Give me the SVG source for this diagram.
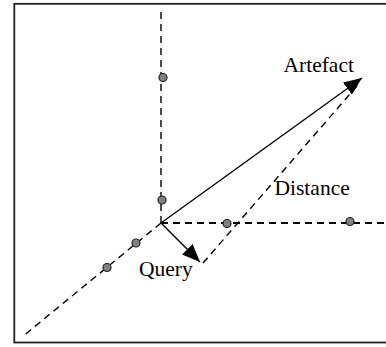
<svg xmlns="http://www.w3.org/2000/svg" width="386" height="347" viewBox="0 0 386 347">
<style>
.axis{stroke:#000;stroke-width:1.4;stroke-dasharray:7,5;fill:none}
.haxis{stroke-width:1.9}
.vec{stroke:#000;stroke-width:1.4;fill:none;marker-end:url(#ah)}
.dist{stroke:#000;stroke-width:1.4;stroke-dasharray:7,5;fill:none}
.pt{fill:#808080;stroke:#222;stroke-width:1.2}
.lbl{font-family:"Liberation Serif","Times New Roman",serif;font-size:21.5px;fill:#000}
</style>
<defs>
<marker id="ah" markerUnits="userSpaceOnUse" markerWidth="18" markerHeight="15" refX="18" refY="7.5" orient="auto">
<path d="M0,0 L18,7.5 L0,15 z" fill="#000"/>
</marker>
</defs>
<rect x="0" y="0" width="386" height="347" fill="#fff"/>
<rect x="14.3" y="3.8" width="400" height="338.7" fill="none" stroke="#222" stroke-width="1.8"/>
<g id="connectors">
<line class="axis" x1="161" y1="12" x2="161" y2="223"/>
<line class="axis haxis" x1="161" y1="223" x2="384" y2="223"/>
<line class="axis" x1="161" y1="223" x2="22" y2="337"/>
<line class="dist" x1="203" y1="263" x2="357" y2="86"/>
<line class="vec" x1="161" y1="223" x2="362" y2="78"/>
<line class="vec" x1="161" y1="223" x2="200" y2="262"/>
</g>
<g id="points">
<circle class="pt" cx="163" cy="77.5" r="4"/>
<circle class="pt" cx="162" cy="200" r="4"/>
<circle class="pt" cx="227" cy="223.5" r="4"/>
<circle class="pt" cx="350" cy="221.5" r="4"/>
<circle class="pt" cx="136" cy="243" r="4"/>
<circle class="pt" cx="107" cy="267.5" r="4"/>
</g>
<g id="artefact"><text class="lbl" x="283.5" y="72">Artefact</text></g>
<g id="distance"><text class="lbl" x="274.5" y="195">Distance</text></g>
<g id="query"><text class="lbl" x="139" y="276">Query</text></g>
</svg>
